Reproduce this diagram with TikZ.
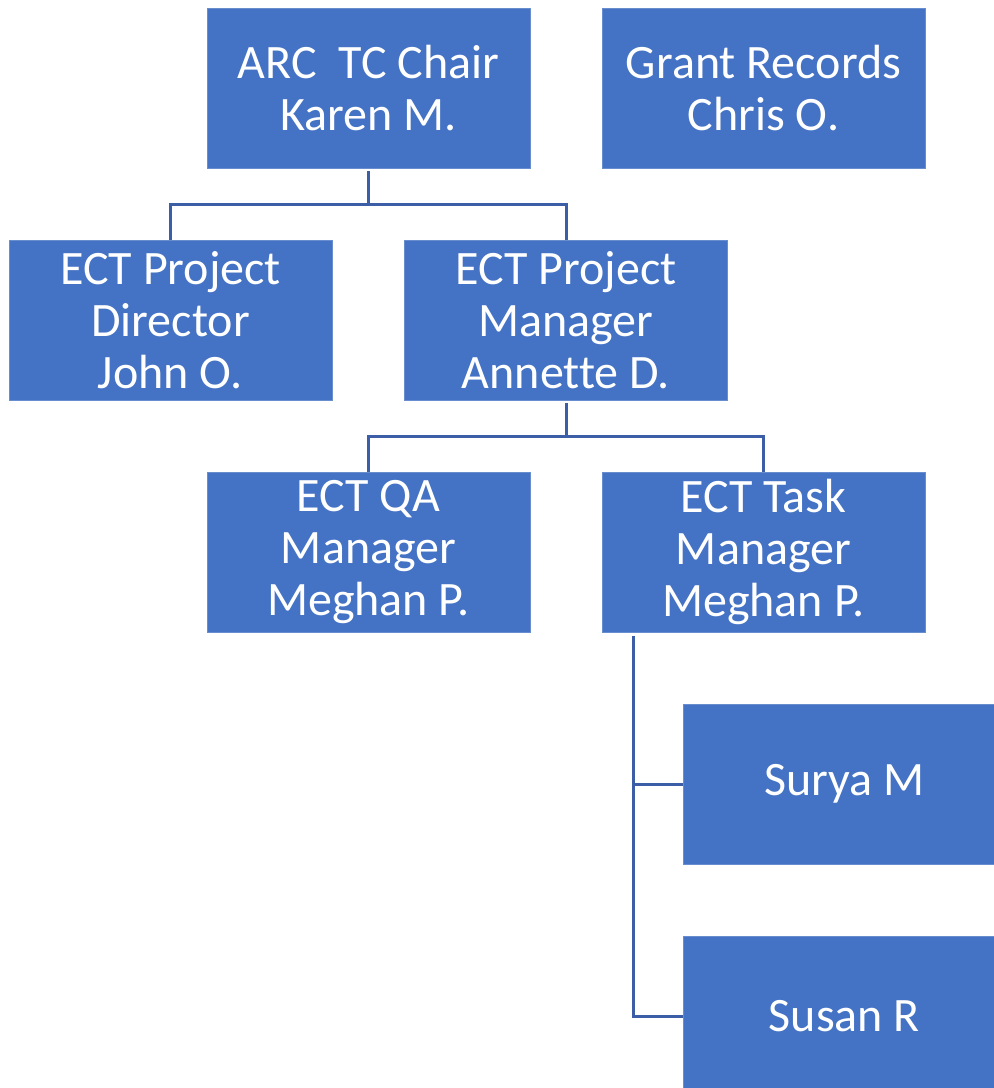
\documentclass[tikz,border=0pt]{standalone}
\usepackage{fontspec}
\setmainfont[Ligatures={NoCommon}]{Carlito}
\definecolor{boxblue}{HTML}{4472C4}
\definecolor{lineblue}{HTML}{3B5EA6}
\begin{document}
\begin{tikzpicture}[x=1pt,y=-1pt,
  orgbox/.style={fill=boxblue, draw=boxblue!80!white, line width=0.6pt, text=white, minimum width=323pt, minimum height=160pt, inner sep=0pt, align=center, font=\fontsize{48}{52}\selectfont},
  conn/.style={draw=lineblue, line width=3pt}]
\useasboundingbox (0,0) rectangle (994,1088);
\node[orgbox] (arc) at (368.5,88) {ARC\ \ TC Chair\\Karen M.};
\node[orgbox] (grant) at (763.5,88) {Grant Records\\Chris O.};
\node[orgbox] (dir) at (170.5,320) {ECT Project\\Director\\John O.};
\node[orgbox] (pm) at (566,320) {ECT Project\\Manager\\Annette D.};
\node[orgbox] (qa) at (368.5,552) {ECT QA\\Manager\\Meghan P.};
\node[orgbox] (task) at (763.5,552) {ECT Task\\Manager\\Meghan P.};
\node[orgbox] (surya) at (844.5,784) {Surya M};
\node[orgbox] (susan) at (844.5,1016) {Susan R};
\coordinate (arcbus) at (368.5,204);
\coordinate (pmbus) at (566,436);
\coordinate (taskbus) at (633,636);
\draw[conn] ([yshift=-3pt]arc.south) -- (arcbus);
\draw[conn] (arcbus) -| (dir.north);
\draw[conn] (arcbus) -| (pm.north);
\draw[conn] ([yshift=-3pt]pm.south) -- (pmbus);
\draw[conn] (pmbus) -| (qa.north);
\draw[conn] (pmbus) -| (task.north);
\draw[conn] (taskbus) |- (surya.west);
\draw[conn] (taskbus) |- (susan.west);
\end{tikzpicture}
\end{document}
